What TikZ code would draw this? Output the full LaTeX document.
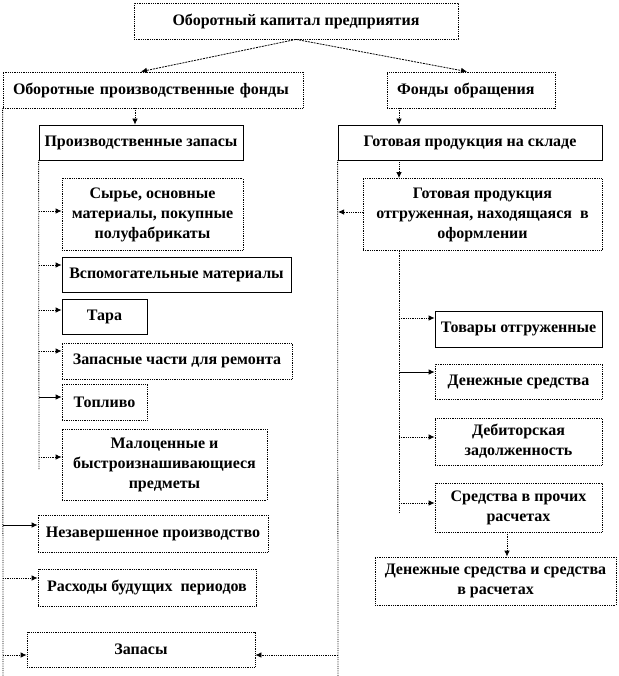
\documentclass[tikz,border=0pt]{standalone}
\usepackage{fontspec}
\setmainfont{Liberation Serif}
\usetikzlibrary{arrows,arrows.meta}

\tikzset{
  box/.style={draw,densely dotted,line width=0.8pt,inner sep=2pt,align=center,
    font=\fontsize{16}{20}\selectfont\bfseries},
  sbox/.style={box,solid},
  con/.style={->,densely dotted,line width=0.8pt},
  scon/.style={->,line width=0.8pt},
  vline/.style={densely dotted,line width=0.8pt}
}

\begin{document}
\begin{tikzpicture}[x=1pt,y=-1pt,>={Latex[length=6pt,width=5.5pt]}]
 \useasboundingbox (0,0) rectangle (618,676);
 % top levels
 \node[box,minimum width=324pt,minimum height=36pt] (cap) at (296,21) {Оборотный капитал предприятия};
 \node[box,text width=280pt,inner xsep=10pt,align=left,minimum height=36pt] (prod) at (153,90) {Оборотные производственные фонды};
 \node[box,text width=148pt,inner xsep=10pt,align=left,minimum height=36pt] (obr) at (471,90) {Фонды обращения};
 \node[sbox,minimum width=204pt,minimum height=35pt] (zap) at (141,142.5) {Производственные запасы};
 \node[sbox,minimum width=264pt,minimum height=35pt] (sklad) at (470,142.5) {Готовая продукция на складе};
 \node[box,minimum width=239pt,minimum height=72pt] (otgr) at (482.5,214.5) {Готовая продукция\\отгруженная, находящаяся\ \ в\\оформлении};
 % production stocks
 \node[box,minimum width=181pt,minimum height=72pt] (s1) at (152.5,214.5) {Сырье, основные\\материалы, покупные\\полуфабрикаты};
 \node[sbox,minimum width=229pt,minimum height=35pt] (s2) at (176.5,274.5) {Вспомогательные материалы};
 \node[sbox,minimum width=85pt,minimum height=35pt] (s3) at (104.5,316.5) {Тара};
 \node[box,minimum width=230pt,minimum height=36pt] (s4) at (177,361) {Запасные части для ремонта};
 \node[box,minimum width=85pt,minimum height=36pt] (s5) at (104.5,402) {Топливо};
 \node[box,minimum width=205pt,minimum height=71pt] (s6) at (164.5,464.5) {Малоценные и\\быстроизнашивающиеся\\предметы};
 \node[box,minimum width=230pt,minimum height=37pt] (nzp) at (153,533.5) {Незавершенное производство};
 \node[box,minimum width=218pt,minimum height=37pt] (rbp) at (147,587.5) {Расходы будущих\ \ периодов};
 \node[box,minimum width=228pt,minimum height=35pt] (zapasy) at (141,649.5) {Запасы};
 % circulation funds
 \node[sbox,minimum width=167pt,minimum height=36pt] (r1) at (518.5,329) {Товары отгруженные};
 \node[box,minimum width=167pt,minimum height=35pt] (r2) at (518.5,381.5) {Денежные средства};
 \node[box,minimum width=167pt,minimum height=47pt] (r3) at (518.5,441.5) {Дебиторская\\задолженность};
 \node[box,minimum width=167pt,minimum height=49pt] (r4) at (518.5,507.5) {Средства в прочих\\расчетах};
 \node[box,minimum width=241pt,minimum height=48pt] (den) at (495.5,581) {Денежные средства и средства\\в расчетах};

 \coordinate (lx) at (135,108);
 \coordinate (rx) at (399,108);
 \coordinate (a1) at (39,211);
 \coordinate (a2) at (39,265);
 \coordinate (a3) at (39,310);
 \coordinate (a4) at (39,351);
 \coordinate (a5) at (39,397);
 \coordinate (a6) at (39,457);
 \coordinate (aend) at (39,469);
 \coordinate (b1) at (3,525);
 \coordinate (b2) at (3,578);
 \coordinate (b3) at (3,655);
 \coordinate (bend) at (3,676);
 \coordinate (c0) at (338,212);
 \coordinate (c3) at (338,655);
 \coordinate (cend) at (338,676);
 \coordinate (d1) at (399,318);
 \coordinate (d2) at (399,372);
 \coordinate (d3) at (399,437);
 \coordinate (d4) at (399,503);
 \coordinate (dend) at (399,513);
 \coordinate (dx) at (507,532);

 \draw[con,dash pattern=on 2pt off 1pt] (cap.south) -- ([xshift=-12pt]prod.north);
 \draw[con,dash pattern=on 2pt off 1pt] (cap.south) -- ([xshift=-4pt]obr.north);
 \draw[con] (lx) -- (lx |- zap.north);
 \draw[con] (rx) -- (rx |- sklad.north);
 \draw[con] (rx |- sklad.south) -- (rx |- otgr.north);

 \draw[vline] (zap.south west) -- (aend);
 \draw[con] (a1) -- (a1 -| s1.west);
 \draw[con] (a2) -- (a2 -| s2.west);
 \draw[con] (a3) -- (a3 -| s3.west);
 \draw[con] (a4) -- (a4 -| s4.west);
 \draw[scon] (a5) -- (a5 -| s5.west);
 \draw[con] (a6) -- (a6 -| s6.west);

 \draw[vline] (prod.south west) -- (bend);
 \draw[scon] (b1) -- (b1 -| nzp.west);
 \draw[con] (b2) -- (b2 -| rbp.west);
 \draw[con] (b3) -- (b3 -| zapasy.west);

 \draw[vline] (sklad.south west) -- (cend);
 \draw[con] (c0 -| otgr.west) -- (c0);
 \draw[con] (c3) -- (c3 -| zapasy.east);

 \draw[vline] (dend |- otgr.south) -- (dend);
 \draw[con] (d1) -- (d1 -| r1.west);
 \draw[scon] (d2) -- (d2 -| r2.west);
 \draw[con] (d3) -- (d3 -| r3.west);
 \draw[con] (d4) -- (d4 -| r4.west);
 \draw[con] (dx) -- (dx |- den.north);
\end{tikzpicture}
\end{document}
